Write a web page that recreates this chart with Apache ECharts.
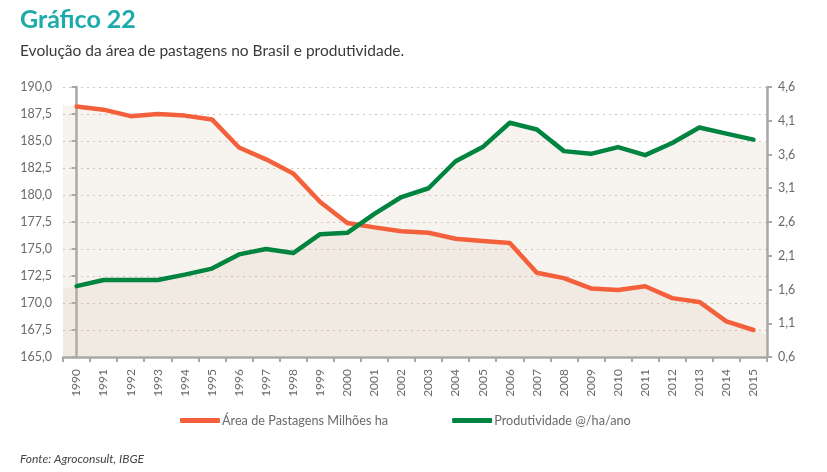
<!DOCTYPE html>
<html>
<head>
<meta charset="utf-8">
<script src="https://cdn.jsdelivr.net/npm/echarts@6/dist/echarts.min.js"></script>
<style>
html,body{margin:0;padding:0;background:#fff;}
#c{width:827px;height:472px;}
</style>
</head>
<body>
<div id="c"></div>
<script>
const years = ['1990','1991','1992','1993','1994','1995','1996','1997','1998','1999','2000','2001','2002','2003','2004','2005','2006','2007','2008','2009','2010','2011','2012','2013','2014','2015'];
const areaPastagens = [188.2,187.9,187.3,187.5,187.35,187.0,184.4,183.3,182.0,179.35,177.4,177.0,176.65,176.5,175.95,175.75,175.55,172.8,172.3,171.35,171.2,171.55,170.45,170.1,168.3,167.5];
const produtividade = [1.65,1.74,1.74,1.74,1.82,1.91,2.12,2.2,2.14,2.42,2.44,2.72,2.97,3.1,3.5,3.71,4.07,3.97,3.65,3.61,3.71,3.59,3.77,4.0,3.91,3.82];
const leftTicks = [165,167.5,170,172.5,175,177.5,180,182.5,185,187.5,190];
const rightTicks = [0.6,1.1,1.6,2.1,2.6,3.1,3.6,4.1,4.6];

const FONT = 'Lato';
const ORANGE = '#f4603c';
const GREEN = '#00843f';
const FILL = 'rgba(205,180,160,0.22)';

// fill polygons span the whole plot width (edge values extended from the end segments)
function fillData(vals){
  const n = vals.length;
  const out = [[-0.5, vals[0] - (vals[1]-vals[0])/2]];
  vals.forEach((v,i)=>out.push([i,v]));
  out.push([n-0.5, vals[n-1] + (vals[n-1]-vals[n-2])/2]);
  return out;
}
const fmt = v => v.toFixed(1).replace('.', ',');

const chart = echarts.init(document.getElementById('c'), null, {renderer:'canvas'});
chart.setOption({
  animation:false,
  backgroundColor:'#ffffff',
  title:[
    {text:'Gráfico 22', left:20, top:7, padding:0, textStyle:{fontFamily:FONT, fontWeight:'bold', fontSize:25, color:'#1aabaa'}},
    {text:'Evolução da área de pastagens no Brasil e produtividade.', left:20, top:43, padding:0, textStyle:{fontFamily:FONT, fontWeight:'normal', fontSize:15.5, color:'#3a3a3a'}},
    {text:'Fonte: Agroconsult, IBGE', left:20, top:453, padding:0, textStyle:{fontFamily:FONT, fontWeight:'normal', fontStyle:'italic', fontSize:12, color:'#444'}}
  ],
  legend:{
    left:180, top:414, padding:0,
    itemWidth:40, itemHeight:5, itemGap:64,
    icon:'roundRect',
    textStyle:{fontFamily:FONT, fontSize:12.7, color:'#6a6a6a', padding:[0,0,0,-3]},
    data:['Área de Pastagens Milhões ha','Produtividade @/ha/ano']
  },
  grid:{left:63, right:60, top:87, bottom:115, containLabel:false},
  xAxis:[
    {type:'category', data:years, boundaryGap:true,
      axisLine:{lineStyle:{color:'#a7a7a7', width:2.5}},
      axisTick:{show:true, length:5, interval:0, lineStyle:{color:'#a7a7a7', width:2}},
      axisLabel:{rotate:90, interval:0, margin:12, fontFamily:FONT, fontSize:12, color:'#6a6a6a'}
    },
    {type:'value', min:-0.5, max:years.length-0.5, show:false}
  ],
  yAxis:[
    {type:'value', min:165, max:190, interval:2.5, position:'left',
      axisLine:{show:true, lineStyle:{color:'#a7a7a7', width:2.5}},
      axisTick:{show:true, length:5, lineStyle:{color:'#a7a7a7', width:2}},
      axisLabel:{margin:11, formatter:fmt, fontFamily:FONT, fontSize:12.5, color:'#6a6a6a', customValues:leftTicks},
      splitLine:{show:true, lineStyle:{color:'#d8c2b0', width:1, type:[2,4]}}
    },
    {type:'value', min:0.6, max:4.6, position:'right',
      axisLine:{show:true, lineStyle:{color:'#a7a7a7', width:2.5}},
      axisTick:{show:true, length:5, lineStyle:{color:'#a7a7a7', width:2}, customValues:rightTicks},
      axisLabel:{margin:11, formatter:fmt, fontFamily:FONT, fontSize:12.5, color:'#6a6a6a', customValues:rightTicks},
      splitLine:{show:false}
    }
  ],
  series:[
    {type:'line', xAxisIndex:1, yAxisIndex:0, data:fillData(areaPastagens), symbol:'none', silent:true,
      lineStyle:{width:0, opacity:0}, areaStyle:{color:FILL}, z:1},
    {type:'line', xAxisIndex:1, yAxisIndex:1, data:fillData(produtividade), symbol:'none', silent:true,
      lineStyle:{width:0, opacity:0}, areaStyle:{color:FILL}, z:1},
    {name:'Área de Pastagens Milhões ha', type:'line', xAxisIndex:0, yAxisIndex:0, data:areaPastagens,
      symbol:'none', color:ORANGE, lineStyle:{width:4.5, color:ORANGE, cap:'round', join:'round'}, z:5},
    {name:'Produtividade @/ha/ano', type:'line', xAxisIndex:0, yAxisIndex:1, data:produtividade,
      symbol:'none', color:GREEN, lineStyle:{width:4.5, color:GREEN, cap:'round', join:'round'}, z:6}
  ]
});
</script>
</body>
</html>
